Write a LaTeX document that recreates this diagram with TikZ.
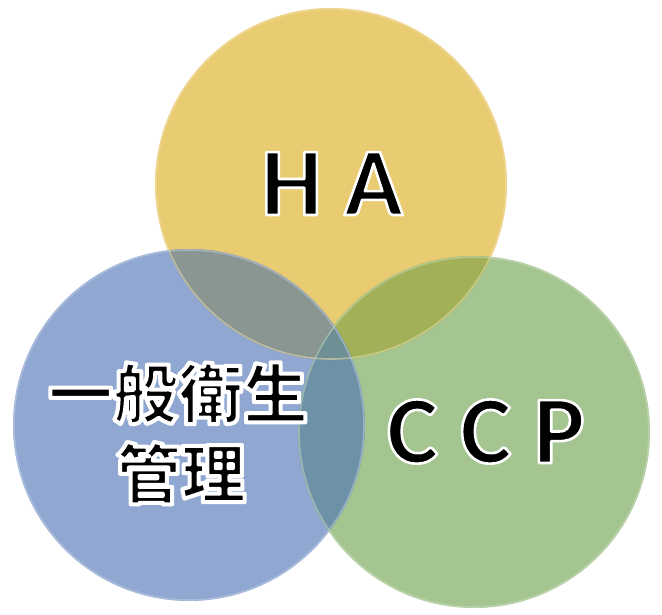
\documentclass[tikz,border=0pt]{standalone}
\usepackage{fontspec}
\newfontfamily\latinf{Carlito}
\newfontfamily\cjkf{Noto Sans CJK JP}
\definecolor{ycol}{HTML}{E9CB72}
\definecolor{bcol}{HTML}{90A7D1}
\definecolor{gcol}{HTML}{A5C590}
\definecolor{ybcol}{HTML}{8A9691}
\definecolor{ygcol}{HTML}{A2B158}
\definecolor{bgcol}{HTML}{6D91A6}
\definecolor{ybgcol}{HTML}{6E8F94}
\newcommand{\outl}[2]{\special{pdf:literal direct 1 1 1 RG #1 w 1 j 2 Tr}#2\special{pdf:literal direct 0 Tr}}
\tikzset{
  lbl/.style={inner sep=0pt, anchor=base, text=black},
  rim/.style={line width=1.6pt, opacity=0.5}
}
\begin{document}
\begin{tikzpicture}[x=1pt,y=-1pt]
\useasboundingbox (0,0) rectangle (662,614);
\def\R{176}
\coordinate (cy) at (331,184);
\coordinate (cb) at (189,425);
\coordinate (cg) at (474,432);
% base fills
\fill[ycol] (cy) circle[radius=\R];
\fill[bcol] (cb) circle[radius=\R];
\fill[gcol] (cg) circle[radius=\R];
% pairwise overlaps
\begin{scope}
  \clip (cy) circle[radius=\R];
  \fill[ybcol] (cb) circle[radius=\R];
\end{scope}
\begin{scope}
  \clip (cy) circle[radius=\R];
  \fill[ygcol] (cg) circle[radius=\R];
\end{scope}
\begin{scope}
  \clip (cb) circle[radius=\R];
  \fill[bgcol] (cg) circle[radius=\R];
\end{scope}
\begin{scope}
  \clip (cy) circle[radius=\R];
  \clip (cb) circle[radius=\R];
  \fill[ybgcol] (cg) circle[radius=\R];
\end{scope}
% rims
\draw[rim, draw=ycol!55!white] (cy) circle[radius=\R-1];
\draw[rim, draw=bcol!55!white] (cb) circle[radius=\R-1];
\draw[rim, draw=gcol!55!white] (cg) circle[radius=\R-1];
% labels
\node[lbl, font=\latinf\bfseries\fontsize{97}{100}\selectfont] (ha) at (332,215) {\outl{2.6}{H A}};
\node[lbl, font=\latinf\bfseries\fontsize{97}{100}\selectfont] (ccp) at (486,463) {\outl{2.6}{C C P}};
\node[lbl, font=\cjkf\bfseries\fontsize{65}{70}\selectfont] (ippan) at (178,418) {\outl{4}{一般衛生}};
\node[lbl, font=\cjkf\bfseries\fontsize{65}{70}\selectfont] (kanri) at (181,498) {\outl{4}{管理}};
\end{tikzpicture}
\end{document}
